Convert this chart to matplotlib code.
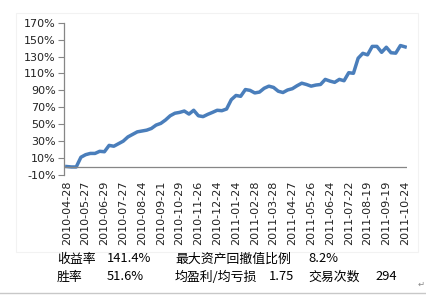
import matplotlib
matplotlib.use("Agg")
import matplotlib.pyplot as plt
import numpy as np

# weekly equity curve (cumulative return in %), one point every 5 trading days
returns = [0, -0.5, -0.5, 11, 14, 15.5, 15.5, 18, 17.5, 25,
           24, 27, 30, 35, 38, 41, 42, 43, 45, 49,
           51, 55, 60, 63, 64, 65.6, 62, 66.5, 60, 59,
           61.7, 64, 66.5, 66, 68, 79, 84, 83, 91, 90,
           87, 88, 92.5, 95, 93.5, 89, 87.5, 90.5, 92, 95.5,
           98.5, 97, 95, 96.3, 97, 103, 101, 99.5, 103, 101.4,
           110.9, 110.2, 128, 133.8, 132, 142, 142, 135, 141, 134.5,
           134, 143, 141.4]
days = np.arange(len(returns)) * 5

date_labels = ['2010-04-28', '2010-05-27', '2010-06-29', '2010-07-27', '2010-08-24',
               '2010-09-21', '2010-10-29', '2010-11-26', '2010-12-24', '2011-01-24',
               '2011-02-28', '2011-03-28', '2011-04-27', '2011-05-26', '2011-06-24',
               '2011-07-22', '2011-08-19', '2011-09-19', '2011-10-24']
label_days = np.arange(len(date_labels)) * 20

stats_row1 = [('收益率', '141.4%'), ('最大资产回撤值比例', '8.2%')]
stats_row2 = [('胜率', '51.6%'), ('均盈利/均亏损', '1.75'), ('交易次数', '294')]

cjk = ['Noto Sans CJK SC', 'DejaVu Sans']

fig = plt.figure(figsize=(4.27, 2.95), dpi=100)
W, H = 427.0, 295.0

# faint chart frame
fig.patches.append(plt.Rectangle((16 / W, 1 - 252 / H), 402 / W, 239 / H,
                                 transform=fig.transFigure, fill=False,
                                 edgecolor='#f2f2f2', linewidth=0.8))

ax = fig.add_axes([64 / W, 1 - 175 / H, 343 / W, 152.3 / H])
ax.plot(days, returns, color='#4a7ebb', linewidth=2.5, solid_joinstyle='round')
ax.axhline(0, color='#868686', linewidth=0.9)

ax.set_ylim(-10, 170)
ax.set_xlim(-3, 362)
yt = np.arange(-10, 171, 20)
ax.set_yticks(yt)
ax.set_yticklabels(['%d%%' % v for v in yt], fontsize=8, color='#222222')
ax.set_xticks(label_days)
ax.set_xticklabels(date_labels, rotation=90, fontsize=8, color='#222222')
ax.tick_params(axis='x', length=0, pad=4)
ax.tick_params(axis='y', length=4, width=0.8, color='#868686', pad=2)

for s in ['top', 'right', 'bottom']:
    ax.spines[s].set_visible(False)
ax.spines['left'].set_color('#868686')
ax.spines['left'].set_linewidth(0.9)

# statistics below the chart
row1_x = [(57, 107), (175, 308)]
for (lab, val), (x1, x2) in zip(stats_row1, row1_x):
    fig.text(x1 / W, 1 - 259 / H, lab, family=cjk, fontsize=9.3, va='center')
    fig.text(x2 / W, 1 - 259 / H, val, family=cjk, fontsize=9.3, va='center')
row2_x = [(57, 107), (175, 269), (308, 375)]
for (lab, val), (x1, x2) in zip(stats_row2, row2_x):
    fig.text(x1 / W, 1 - 277 / H, lab, family=cjk, fontsize=9.3, va='center')
    fig.text(x2 / W, 1 - 277 / H, val, family=cjk, fontsize=9.3, va='center')

fig.text(421 / W, 1 - 284 / H, '↵', family=['DejaVu Sans'], fontsize=6,
         color='#888888', ha='center', va='center')
fig.lines.append(plt.Line2D([0, 1], [1 - 293 / H, 1 - 293 / H],
                            transform=fig.transFigure, color='#c8c8c8', linewidth=1))

fig.savefig('out.png', dpi=100)
